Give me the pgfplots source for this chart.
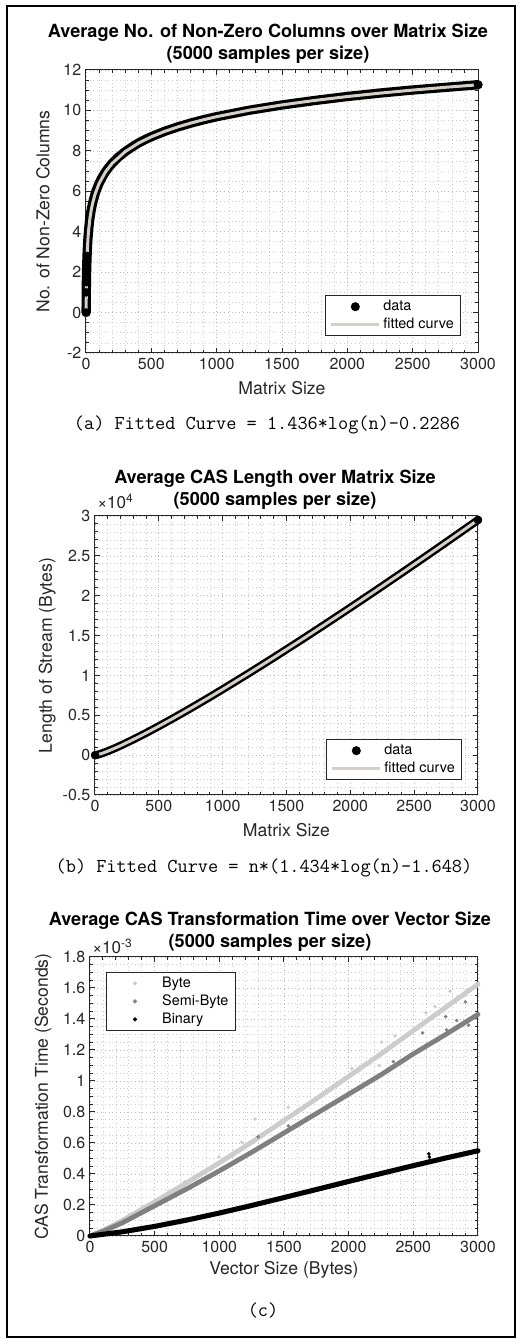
\documentclass[border=0pt]{standalone}
\usepackage{pgfplots}
\pgfplotsset{compat=1.18}
\usepackage{pgfplotstable}
\usepackage{fontspec}
\setmainfont{TeX Gyre Heros}
\definecolor{axgray}{RGB}{38,38,38}
\definecolor{fitc}{RGB}{212,208,200}
\definecolor{bytec}{RGB}{204,204,204}
\definecolor{semic}{RGB}{128,128,128}
\newcommand\tickfont{\fontsize{12}{14}\selectfont}
\newcommand\labfont{\fontsize{13.2}{15.8}\selectfont}
\newcommand\titfont{\bfseries\fontsize{13.6}{16.5}\selectfont}
\newcommand\legfont{\fontsize{10.8}{12.8}\selectfont}
\newcommand\capfont{\ttfamily\fontsize{14.8}{17}\selectfont}

\pgfplotstableread{
x y
1 0
2 1.0
3 1.5
4 1.88
5 2.17
6 2.4
8 2.8
10 3.1
12 3.35
15 3.68
20 4.08
25 4.4
30 4.67
40 5.08
50 5.4
60 5.65
70 5.88
80 6.07
100 6.39
125 6.71
150 6.97
175 7.19
200 7.38
250 7.70
300 7.96
350 8.18
400 8.38
450 8.55
500 8.70
600 8.96
700 9.18
800 9.37
900 9.54
1000 9.69
1250 10.01
1500 10.27
1750 10.49
2000 10.69
2250 10.86
2500 11.01
2750 11.14
3000 11.27
}\dataA
\pgfplotstableread{
x y
1 0
2 1.0
3 1.5
4 1.88
5 2.17
6 2.4
7 2.6
8 2.8
3000 11.27
}\marksA
\pgfplotstableread{
x y
1 -0.229
2 0.767
3 1.349
4 1.762
5 2.082
6 2.344
8 2.757
10 3.078
15 3.660
20 4.073
30 4.655
40 5.069
50 5.389
70 5.872
100 6.384
150 6.966
200 7.380
300 7.962
400 8.375
500 8.696
600 8.957
700 9.179
800 9.370
900 9.540
1000 9.691
1250 10.011
1500 10.273
1750 10.494
2000 10.686
2250 10.855
2500 11.006
2750 11.143
3000 11.268
}\fitA
\pgfplotstableread{
x y
1 0
10 17
25 76
50 198
100 496
150 831
200 1190
300 1959
400 2777
500 3632
600 4515
700 5422
800 6350
900 7296
1000 8258
1200 10223
1400 12236
1600 14291
1800 16382
2000 18504
2200 20654
2400 22831
2600 25032
2800 27255
3000 29499
}\dataB
\pgfplotstableread{
x y
1 0
3000 29499
}\marksB
\pgfplotstableread{
x y
0 0
100 0.000035
250 0.000100
500 0.000220
750 0.000345
1000 0.000472
1250 0.000605
1500 0.000745
1750 0.000885
2000 0.001030
2250 0.001175
2500 0.001325
2750 0.001475
3000 0.001625
}\byteLine
\pgfplotstableread{
x y
735 0.00035
997 0.00051
1173 0.000605
1276 0.000755
1533 0.00083
2023 0.00108
2237 0.00110
2255 0.00125
2358 0.00129
2598 0.00144
2668 0.00148
2784 0.00158
}\byteMarks
\pgfplotstableread{
x y
0 0
100 0.00003
250 0.000085
500 0.000195
750 0.000305
1000 0.000420
1250 0.000540
1500 0.000665
1750 0.000790
2000 0.000915
2250 0.001040
2500 0.001175
2750 0.001300
3000 0.001430
}\semiLine
\pgfplotstableread{
x y
1134 0.00048
1300 0.00064
1533 0.00071
2345 0.001125
2572 0.00131
2750 0.001415
2757 0.00133
2835 0.00139
2902 0.00151
2928 0.00136
}\semiMarks
\pgfplotstableread{
x y
0 0
250 0.000027
500 0.000062
750 0.000103
1000 0.000148
1250 0.000197
1500 0.000248
1750 0.000300
2000 0.000352
2250 0.000403
2500 0.000454
2750 0.000503
3000 0.000550
}\binLine
\pgfplotstableread{
x y
2620 0.00053
2624 0.00051
2628 0.00049
}\binMarks

\pgfplotsset{
  mat/.style={
    scale only axis,
    clip=false,
    xmin=0, xmax=3000,
    xtick={0,500,...,3000},
    minor x tick num=4,
    tick align=inside,
    tick pos=both,
    grid=both,
    major grid style={black!27, line width=0.5pt, dash pattern=on 0.6pt off 2.2pt},
    minor grid style={black!20, line width=0.5pt, dash pattern=on 0.6pt off 2.2pt},
    axis line style={axgray, line width=0.75pt},
    every tick/.style={axgray, line width=0.75pt},
    major tick length=3.5pt, minor tick length=2pt,
    tick label style={font=\tickfont, text=axgray},
    /pgf/number format/assume math mode=true,
    /pgf/number format/1000 sep={},
    label style={font=\labfont, text=axgray},
    legend cell align=left,
    legend style={font=\legfont, draw=axgray, line width=0.75pt, fill=white, row sep=0pt, inner xsep=3pt, inner ysep=1.5pt},
  },
  lineimg/.style={legend image code/.code={\draw[##1] (0pt,0pt) -- (36pt,0pt);}},
  markimg/.style={legend image code/.code={\path (0pt,0pt) (36pt,0pt);\draw[mark repeat=2,mark phase=2,##1] plot coordinates {(0pt,0pt) (18pt,0pt) (36pt,0pt)};}},
}

\begin{document}
\begin{tikzpicture}
\path (0pt,0pt) rectangle (390pt,1005pt);
\draw[black, line width=1.5pt] (5.25pt,2.25pt) rectangle (386.25pt,1000.5pt);

% (a)
\begin{axis}[mat, at={(64.5pt,740.25pt)}, anchor=south west, width=294pt, height=212.25pt,
  ymin=-2, ymax=12, ytick={-2,0,...,12}, minor y tick num=3,
  title={Average No. of Non-Zero Columns over Matrix Size\\(5000 samples per size)},
  title style={font=\titfont, align=center, xshift=-10.5pt, yshift=-5pt},
  xlabel={Matrix Size}, ylabel={No. of Non-Zero Columns},
  xlabel style={at={(axis description cs:0.5,-0.1237)}, anchor=center},
  ylabel style={at={(axis description cs:-0.1097,0.5)}, anchor=center},
  legend style={at={(axis description cs:1,0)}, anchor=south east, xshift=-12.75pt, yshift=12.75pt},
]
\addplot[black, line width=7pt, line cap=round, line join=round, forget plot] table {\dataA};
\addplot[only marks, mark=*, mark size=3pt, black, markimg] table {\marksA};
\addlegendentry{data}
\addplot[fitc, line width=2.25pt, lineimg] table {\fitA};
\addlegendentry{fitted curve}
\end{axis}
\node[font=\capfont, anchor=base] at (200.25pt,682.5pt) {(a) Fitted Curve = 1.436*log(n)-0.2286};

% (b)
\begin{axis}[mat, at={(71.25pt,408.75pt)}, anchor=south west, width=287.25pt, height=209.25pt,
  ymin=-5000, ymax=30000, ytick={-5000,0,5000,10000,15000,20000,25000,30000}, minor y tick num=4,
  scaled y ticks=base 10:-4, ytick scale label code/.code={},
  yticklabel style={/pgf/number format/fixed, /pgf/number format/precision=1},
  title={Average CAS Length over Matrix Size\\(5000 samples per size)},
  title style={font=\titfont, align=center, xshift=-8.6pt, yshift=-5pt},
  xlabel={Matrix Size}, ylabel={Length of Stream (Bytes)},
  xlabel style={at={(axis description cs:0.5,-0.125)}, anchor=center},
  ylabel style={at={(axis description cs:-0.125,0.5)}, anchor=center},
  legend style={at={(axis description cs:1,0)}, anchor=south east, xshift=-12pt, yshift=11.25pt},
]
\addplot[black, line width=6pt, line cap=round, line join=round, forget plot] table {\dataB};
\addplot[only marks, mark=*, mark size=3pt, black, markimg] table {\marksB};
\addlegendentry{data}
\addplot[fitc, line width=2.25pt, lineimg] table {\dataB};
\addlegendentry{fitted curve}
\node[anchor=south west, inner sep=0pt, font=\fontsize{12.8}{14}\selectfont, text=axgray, xshift=1.5pt, yshift=5pt] at (rel axis cs:0,1) {×10\textsuperscript{4}};
\end{axis}
\node[font=\capfont, anchor=base] at (198pt,350.25pt) {(b) Fitted Curve = n*(1.434*log(n)-1.648)};

% (c)
\begin{axis}[mat, at={(67.5pt,78pt)}, anchor=south west, width=291pt, height=209.25pt,
  ymin=0, ymax=0.0018, ytick={0,0.0002,0.0004,0.0006,0.0008,0.001,0.0012,0.0014,0.0016,0.0018}, minor y tick num=3,
  scaled y ticks=base 10:3, ytick scale label code/.code={},
  yticklabel style={/pgf/number format/fixed, /pgf/number format/precision=1},
  title={Average CAS Transformation Time over Vector Size\\(5000 samples per size)},
  title style={font=\titfont, align=center, xshift=-10.5pt, yshift=-5pt},
  xlabel={Vector Size (Bytes)}, ylabel={CAS Transformation Time (Seconds)},
  xlabel style={at={(axis description cs:0.5,-0.122)}, anchor=center},
  ylabel style={at={(axis description cs:-0.121,0.5)}, anchor=center},
  legend style={at={(axis description cs:0,1)}, anchor=north west, xshift=12pt, yshift=-11.25pt},
]
\addplot[bytec, line width=3.6pt, line cap=round, line join=round, forget plot] table {\byteLine};
\addplot[only marks, mark=*, mark size=1.1pt, bytec, markimg] table {\byteMarks};
\addlegendentry{Byte}
\addplot[semic, line width=3.6pt, line cap=round, line join=round, forget plot] table {\semiLine};
\addplot[only marks, mark=*, mark size=1.1pt, semic, markimg] table {\semiMarks};
\addlegendentry{Semi-Byte}
\addplot[black, line width=3.8pt, line cap=round, line join=round, forget plot] table {\binLine};
\addplot[only marks, mark=*, mark size=1.1pt, black, markimg] table {\binMarks};
\addlegendentry{Binary}
\node[anchor=south west, inner sep=0pt, font=\fontsize{12.8}{14}\selectfont, text=axgray, xshift=1.5pt, yshift=2.5pt] at (rel axis cs:0,1) {×10\textsuperscript{-3}};
\end{axis}
\node[font=\capfont, anchor=base] at (197.25pt,17.25pt) {(c)};
\end{tikzpicture}
\end{document}
